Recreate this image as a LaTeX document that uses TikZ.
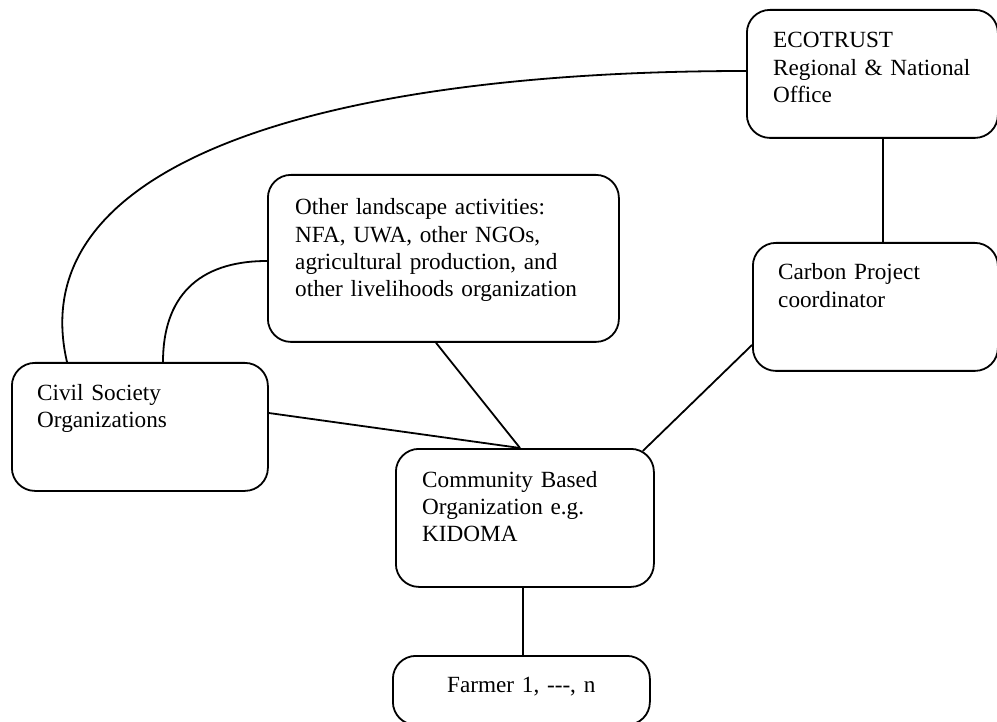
\documentclass[tikz,border=0pt]{standalone}
\usepackage{fontspec}
\setmainfont{Liberation Serif}
\usetikzlibrary{calc}
\begin{document}
\begin{tikzpicture}[x=1pt,y=-1pt,
  box/.style={draw=black, line width=1.8pt, rounded corners=23pt, inner sep=0pt, anchor=north west},
  txt/.style={font=\fontsize{23.2}{27.3}\selectfont, text width=340pt, align=left, inner sep=0pt, anchor=base west},
  conn/.style={draw=black, line width=1.8pt}]
\useasboundingbox (0,0) rectangle (997,722);
% boxes
\node[box, minimum width=251pt, minimum height=128pt] (eco) at (746,9) {};
\node[box, minimum width=351pt, minimum height=167pt] (other) at (267,174) {};
\node[box, minimum width=245pt, minimum height=128pt] (carbon) at (752,242) {};
\node[box, minimum width=256pt, minimum height=128pt] (civil) at (11,362) {};
\node[box, minimum width=258pt, minimum height=138pt] (cbo) at (395,448) {};
\node[box, minimum width=257pt, minimum height=69pt] (farmer) at (392,655) {};
% texts
\node[txt] (ecot) at (773,48) {ECOTRUST\\Regional \& National\\Office};
\node[txt] (othert) at (295,215) {Other landscape activities:\\NFA, UWA, other NGOs,\\agricultural production, and\\other livelihoods organization};
\node[txt] (carbont) at (778,280) {Carbon Project\\coordinator};
\node[txt] (civilt) at (37,400) {Civil Society\\Organizations};
\node[txt] (cbot) at (422,487) {Community Based\\Organization e.g.\\KIDOMA};
\node[txt] (farmert) at (447,692) {Farmer 1, {-}{-}{-}, n};
% connectors
\draw[conn] (eco.south -| 883,0) -- (carbon.north -| 883,0);
\draw[conn] (carbon.west |- 0,345) -- ($(cbo.north east)+(-12,3)$);
\draw[conn] (other.south -| 436,0) -- (cbo.north -| 520,0);
\draw[conn] (civil.east |- 0,413) -- (cbo.north -| 520,0);
\draw[conn] (cbo.south -| 523,0) -- (farmer.north -| 523,0);
\draw[conn] (civil.north -| 67,0) .. controls (20,160) and (330,71) .. (eco.west |- 0,71);
\draw[conn] (civil.north -| 163,0) .. controls (163,298) and (197,261) .. (other.west |- 0,261);
\end{tikzpicture}
\end{document}
